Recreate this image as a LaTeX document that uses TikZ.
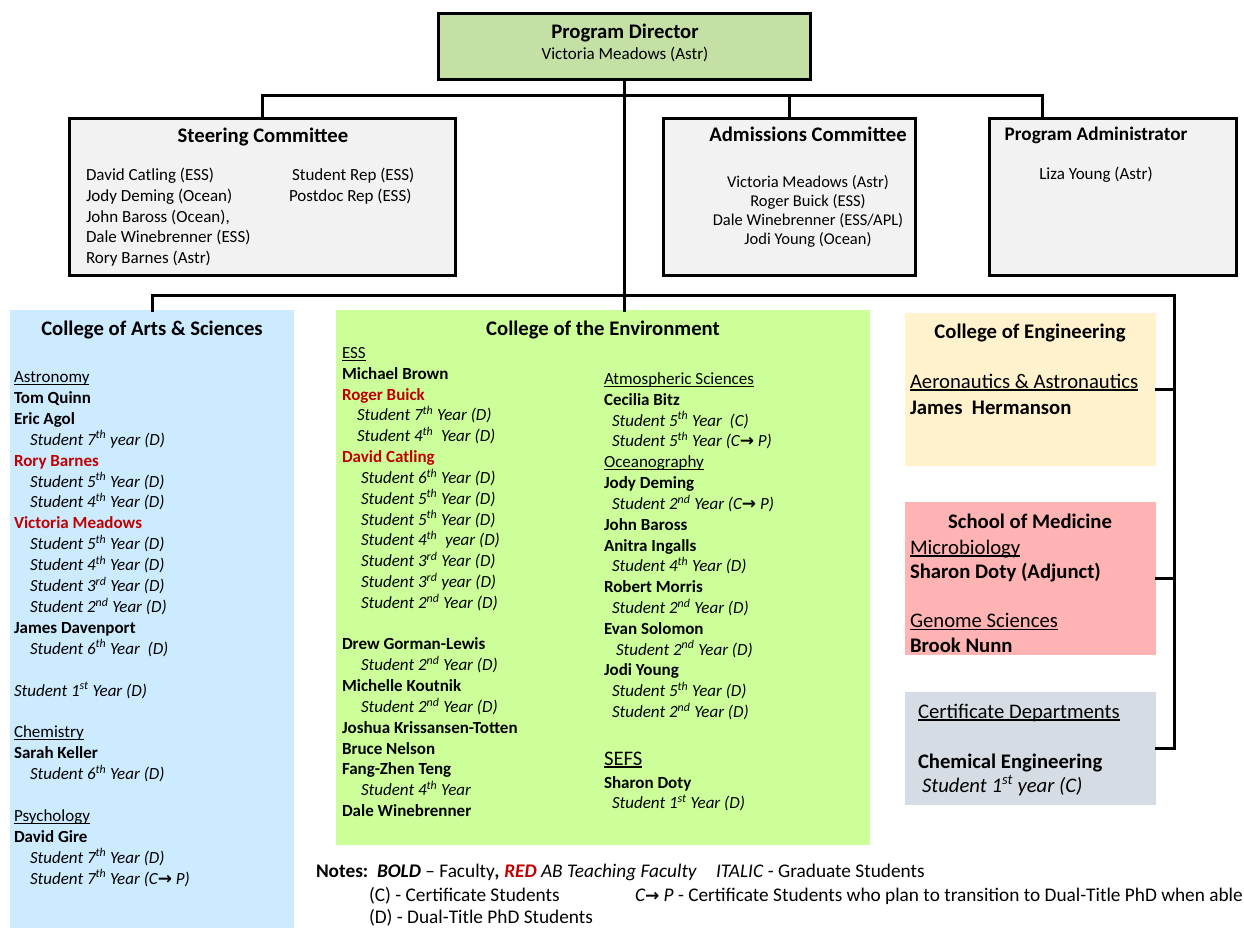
\documentclass[tikz,border=0pt]{standalone}
\usepackage{fontspec}
\setmainfont{Carlito}
\newfontfamily\djv{DejaVu Sans}
\definecolor{dirg}{HTML}{C5E0A5}
\definecolor{boxg}{HTML}{F2F2F2}
\definecolor{artsb}{HTML}{CCEBFF}
\definecolor{envg}{HTML}{CCFF99}
\definecolor{engy}{HTML}{FFF2CC}
\definecolor{medr}{HTML}{FFB3B3}
\definecolor{certg}{HTML}{D6DCE4}
\definecolor{redt}{HTML}{C00000}
\newcommand\sx[1]{\textsuperscript{#1}}
\newcommand\fac[1]{\textbf{#1}}
\newcommand\redf[1]{\textbf{\color{redt}#1}}
\newcommand\stud[1]{\textit{#1}}
\newcommand\idt[1]{\kern#1pt\relax}
\newcommand\undl[1]{\setbox0=\hbox{#1}\rlap{\rule[-0.13em]{\wd0}{0.065em}}\box0}
\newcommand\arw{{\djv\bfseries\upshape\fontsize{17}{17}\selectfont →}}
\newcommand\rowsL[2]{\vtop{\baselineskip=#1pt\lineskiplimit=-\maxdimen\lineskip=0pt\halign{##\hfil\cr#2\crcr}}}
\newcommand\rowsC[2]{\vtop{\baselineskip=#1pt\lineskiplimit=-\maxdimen\lineskip=0pt\halign{\hfil##\hfil\cr#2\crcr}}}
\tikzset{
  frame/.style={draw=black, line width=3pt, inner sep=0pt, outer sep=0pt},
  plainbox/.style={draw=none, inner sep=0pt, outer sep=0pt},
  conn/.style={draw=black, line width=3pt, line cap=rect, line join=miter},
  txt/.style={inner sep=0pt, outer sep=0pt, anchor=base west},
  ctxt/.style={inner sep=0pt, outer sep=0pt, anchor=base},
  bodyf/.style={font=\fontsize{17}{20.8}\selectfont},
  admf/.style={font=\fontsize{16.5}{19}\selectfont},
  bigf/.style={font=\fontsize{20.7}{24.5}\selectfont},
  titlef/.style={font=\fontsize{20.7}{25}\selectfont\bfseries},
  notef/.style={font=\fontsize{19.3}{23}\selectfont},
}
\begin{document}
\begin{tikzpicture}[x=1pt,y=-1pt]
\useasboundingbox (0,0) rectangle (1244,928);
\fill[white] (0,0) rectangle (1244,928);

% boxes
\node[frame, fill=dirg, minimum width=372, minimum height=66] (dir) at (624.5,46.5) {};
\node[frame, fill=boxg, minimum width=386, minimum height=157] (steer) at (262.5,197) {};
\node[frame, fill=boxg, minimum width=252, minimum height=157] (adm) at (789.5,197) {};
\node[frame, fill=boxg, minimum width=247, minimum height=157] (admin) at (1113,197) {};
\node[plainbox, fill=artsb, minimum width=284, minimum height=618] (arts) at (152,619) {};
\node[plainbox, fill=envg, minimum width=534, minimum height=535] (env) at (603,577.5) {};
\node[plainbox, fill=engy, minimum width=251, minimum height=153] (eng) at (1030.5,389.5) {};
\node[plainbox, fill=medr, minimum width=251, minimum height=153] (med) at (1030.5,578.5) {};
\node[plainbox, fill=certg, minimum width=251, minimum height=113] (cert) at (1030.5,748.5) {};

% connectors
\coordinate (topbus) at (624.5,96);
\coordinate (admintap) at (1042,118.5);
\coordinate (rbus) at (1174,295);
\draw[conn] (dir.south) -- (dir.south |- env.north);
\draw[conn] (steer.north) |- (topbus) -| (admintap);
\draw[conn] (adm.north) -- (adm.north |- topbus);
\draw[conn] (arts.north) |- (rbus) -- (rbus |- cert.east) -- (cert.east);
\draw[conn] (eng.east) -- (rbus |- eng.east);
\draw[conn] (med.east) -- (rbus |- med.east);

% director
\node[ctxt, titlef] (dirT) at (625,39) {Program Director};
\node[ctxt, bodyf] (dirN) at (625,60) {Victoria Meadows (Astr)};

% steering committee
\node[ctxt, titlef] (steerT) at (263,143) {Steering Committee};
\node[txt, bodyf] (steerL) at (86,180.5) {\rowsL{20.8}{David Catling (ESS)\cr Jody Deming (Ocean)\cr John Baross (Ocean),\cr Dale Winebrenner (ESS)\cr Rory Barnes (Astr)\cr}};
\node[txt, bodyf] (steerR) at (289,181) {\rowsL{20.8}{\idt{3}Student Rep (ESS)\cr Postdoc Rep (ESS)\cr}};

% admissions
\node[ctxt, titlef] (admT) at (808,142) {Admissions Committee};
\node[ctxt, admf] (admN) at (808,188) {\rowsC{19}{Victoria Meadows (Astr)\cr Roger Buick (ESS)\cr Dale Winebrenner (ESS/APL)\cr Jodi Young (Ocean)\cr}};

% administrator
\node[ctxt, titlef, font=\fontsize{19.2}{23}\selectfont\bfseries] (adminT) at (1096,141) {Program Administrator};
\node[ctxt, bodyf] (adminN) at (1096,179) {Liza Young (Astr)};

% arts & sciences
\node[ctxt, titlef] (artsT) at (152,335) {College of Arts \& Sciences};
\node[txt, bodyf] (artsL) at (14,382.5) {\rowsL{20.9}{%
\undl{Astronomy}\cr
\fac{Tom Quinn}\cr
\fac{Eric Agol}\cr
\idt{16}\stud{Student 7\sx{th} year (D)}\cr
\redf{Rory Barnes}\cr
\idt{16}\stud{Student 5\sx{th} Year (D)}\cr
\idt{16}\stud{Student 4\sx{th} Year (D)}\cr
\redf{Victoria Meadows}\cr
\idt{16}\stud{Student 5\sx{th} Year (D)}\cr
\idt{16}\stud{Student 4\sx{th} Year (D)}\cr
\idt{16}\stud{Student 3\sx{rd} Year (D)}\cr
\idt{16}\stud{Student 2\sx{nd} Year (D)}\cr
\fac{James Davenport}\cr
\idt{16}\stud{Student 6\sx{th} Year~ (D)}\cr
\cr
\stud{Student 1\sx{st} Year (D)}\cr
\cr
\undl{Chemistry}\cr
\fac{Sarah Keller}\cr
\idt{16}\stud{Student 6\sx{th} Year (D)}\cr
\cr
\undl{Psychology}\cr
\fac{David Gire}\cr
\idt{16}\stud{Student 7\sx{th} Year (D)}\cr
\idt{16}\stud{Student 7\sx{th} Year (C\arw\ P)}\cr}};

% environment
\node[ctxt, titlef] (envT) at (603,335) {College of the Environment};
\node[txt, bodyf] (envL) at (342,358.5) {\rowsL{20.82}{%
\undl{ESS}\cr
\fac{Michael Brown}\cr
\redf{Roger Buick}\cr
\idt{15}\stud{Student 7\sx{th} Year (D)}\cr
\idt{15}\stud{Student 4\sx{th}~ Year (D)}\cr
\redf{David Catling}\cr
\idt{19}\stud{Student 6\sx{th} Year (D)}\cr
\idt{19}\stud{Student 5\sx{th} Year (D)}\cr
\idt{19}\stud{Student 5\sx{th} Year (D)}\cr
\idt{19}\stud{Student 4\sx{th}~ year (D)}\cr
\idt{19}\stud{Student 3\sx{rd} Year (D)}\cr
\idt{19}\stud{Student 3\sx{rd} year (D)}\cr
\idt{19}\stud{Student 2\sx{nd} Year (D)}\cr
\cr
\fac{Drew Gorman-Lewis}\cr
\idt{19}\stud{Student 2\sx{nd} Year (D)}\cr
\fac{Michelle Koutnik}\cr
\idt{19}\stud{Student 2\sx{nd} Year (D)}\cr
\fac{Joshua Krissansen-Totten}\cr
\fac{Bruce Nelson}\cr
\fac{Fang-Zhen Teng}\cr
\idt{19}\stud{Student 4\sx{th} Year}\cr
\fac{Dale Winebrenner}\cr}};
\node[txt, bodyf] (envR) at (604,384.5) {\rowsL{20.82}{%
\undl{Atmospheric Sciences}\cr
\fac{Cecilia Bitz}\cr
\idt{8}\stud{Student 5\sx{th} Year~ (C)}\cr
\idt{8}\stud{Student 5\sx{th} Year (C\arw\ P)}\cr
\undl{Oceanography}\cr
\fac{Jody Deming}\cr
\idt{8}\stud{Student 2\sx{nd} Year (C\arw\ P)}\cr
\fac{John Baross}\cr
\fac{Anitra Ingalls}\cr
\idt{8}\stud{Student 4\sx{th} Year (D)}\cr
\fac{Robert Morris}\cr
\idt{8}\stud{Student 2\sx{nd} Year (D)}\cr
\fac{Evan Solomon}\cr
\idt{12}\stud{Student 2\sx{nd} Year (D)}\cr
\fac{Jodi Young}\cr
\idt{8}\stud{Student 5\sx{th} Year (D)}\cr
\idt{8}\stud{Student 2\sx{nd} Year (D)}\cr}};
\node[txt, bigf] (sefs) at (604,765) {\undl{SEFS}};
\node[txt, bodyf] (sefsN) at (604,788) {\rowsL{20.8}{%
\fac{Sharon Doty}\cr
\idt{8}\stud{Student 1\sx{st} Year (D)}\cr}};

% engineering
\node[ctxt, titlef] (engT) at (1030,338) {College of Engineering};
\node[txt, bigf] (engN) at (910,388) {\rowsL{26}{%
\undl{Aeronautics \& Astronautics}\cr
\fac{James~ Hermanson}\cr}};

% medicine
\node[ctxt, titlef] (medT) at (1030,528) {School of Medicine};
\node[txt, bigf] (medN) at (910,554) {\rowsL{24.5}{%
\undl{Microbiology}\cr
\fac{Sharon Doty (Adjunct)}\cr
\cr
\undl{Genome Sciences}\cr
\fac{Brook Nunn}\cr}};

% certificate
\node[txt, bigf] (certT) at (918,718) {\undl{Certificate Departments}};
\node[txt, bigf] (certN) at (918,768) {\rowsL{24}{%
\fac{Chemical Engineering}\cr
\idt{4}\stud{Student 1\sx{st} year (C)}\cr}};

% notes
\node[txt, notef] (n1) at (316,877) {\textbf{Notes:}\ \ \textbf{\textit{BOLD}} -- Faculty\textbf{\textit{,}} \textbf{\textit{\color{redt}RED}} \textit{AB Teaching Faculty}};
\node[txt, notef] (n1b) at (716,877) {\textit{ITALIC} - Graduate Students};
\node[txt, notef] (n2) at (369,901) {(C) - Certificate Students};
\node[txt, notef] (n2b) at (635,901) {\textit{C\arw\ P} - Certificate Students who plan to transition to Dual-Title PhD when able};
\node[txt, notef] (n3) at (369,923) {(D) - Dual-Title PhD Students};
\end{tikzpicture}
\end{document}
